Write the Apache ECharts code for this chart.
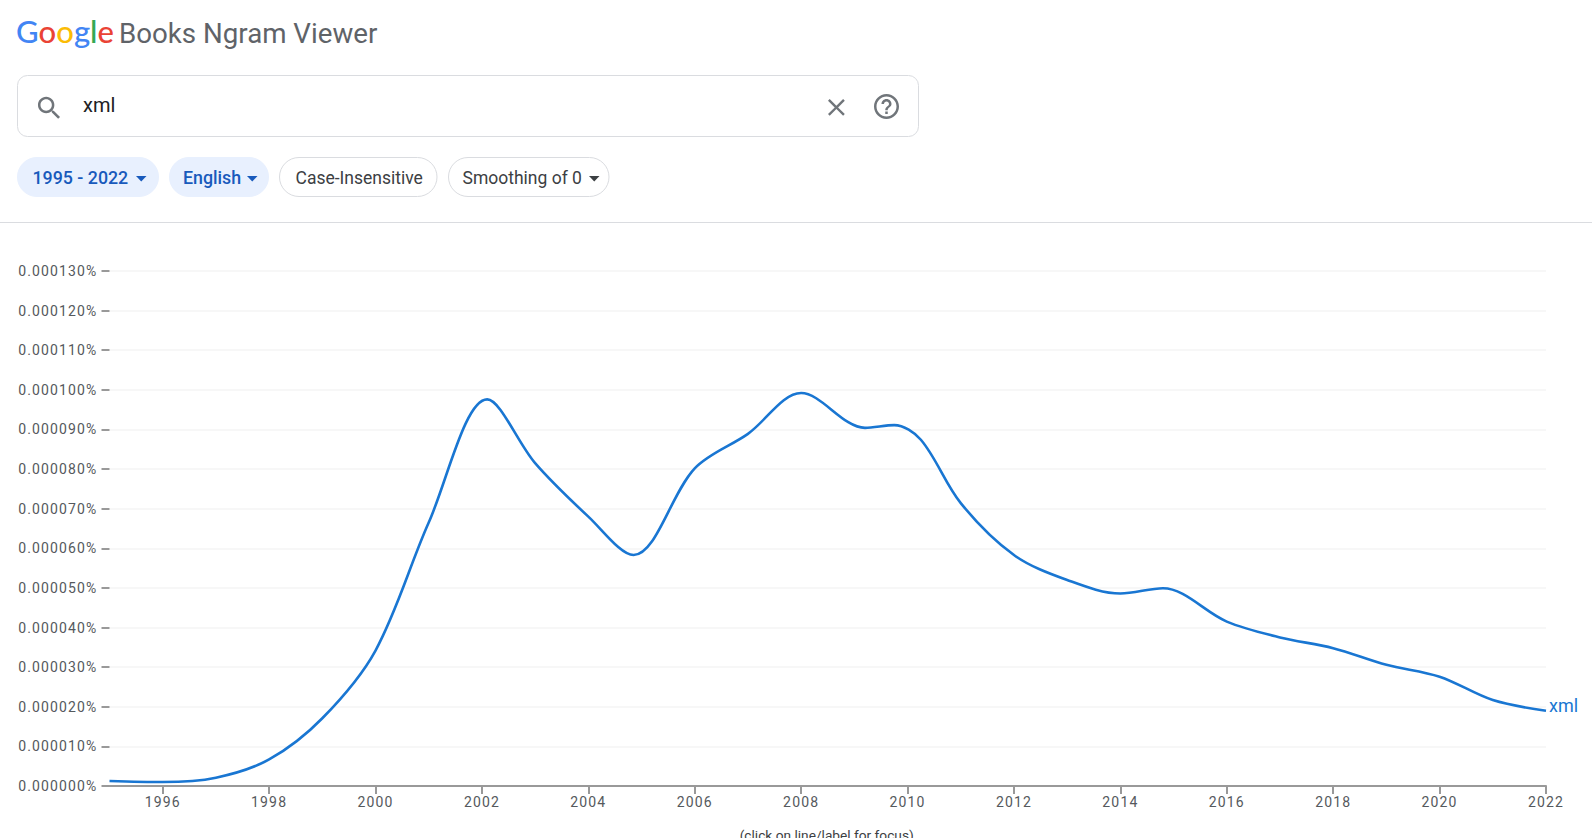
<!DOCTYPE html>
<html><head><meta charset="utf-8">
<style>
html,body{margin:0;padding:0;background:#fff;overflow:hidden}
#c{width:1592px;height:838px}
#c svg text[style*="14px"]{letter-spacing:1.15px}
</style>
<script src="https://cdn.jsdelivr.net/npm/echarts@6/dist/echarts.min.js"></script>
</head><body><div id="c"></div>
<script>
const query = 'xml';
const years = [1995,1996,1997,1998,1999,2000,2001,2002.1,2003,2004,2004.85,2006,2007,2008,2009.2,2009.75,2010.25,2011,2012,2013,2014,2014.8,2016,2017,2018,2019,2020,2021,2022];
const values = [1.26e-6,1.0e-6,2.1e-6,6.7e-6,17.1e-6,34.2e-6,66.5e-6,97.6e-6,81.5e-6,68.0e-6,58.3e-6,80.2e-6,88.9e-6,99.2e-6,90.4e-6,91.1e-6,87.4e-6,71.4e-6,58.3e-6,52.0e-6,48.6e-6,49.9e-6,41.5e-6,37.5e-6,34.8e-6,30.6e-6,27.6e-6,21.7e-6,19.0e-6];
const xTicks = [1996,1998,2000,2002,2004,2006,2008,2010,2012,2014,2016,2018,2020,2022];
const chips = [
  {text:'1995 - 2022',x:17,w:142,tx:32.5,active:true,caret:136},
  {text:'English',x:169,w:100,tx:183,active:true,caret:247},
  {text:'Case-Insensitive',x:279,w:158.5,tx:295.5,active:false},
  {text:'Smoothing of 0',x:448,w:161.5,tx:462.5,active:false,caret:589}
];
const ICON_SEARCH='M15.5 14h-.79l-.28-.27C15.41 12.59 16 11.11 16 9.5 16 5.91 13.09 3 9.5 3S3 5.91 3 9.5 5.91 16 9.5 16c1.61 0 3.09-.59 4.23-1.57l.27.28v.79l5 4.99L20.49 19l-4.99-5zm-6 0C7.01 14 5 11.99 5 9.5S7.01 5 9.5 5 14 7.01 14 9.5 11.99 14 9.5 14z';
const ICON_CLOSE='M19 6.41L17.59 5 12 10.59 6.41 5 5 6.41 10.59 12 5 17.59 6.41 19 12 13.41 17.59 19 19 17.59 13.41 12z';
const ICON_HELP='M11 18h2v-2h-2v2zm1-16C6.48 2 2 6.48 2 12s4.48 10 10 10 10-4.48 10-10S17.52 2 12 2zm0 18c-4.41 0-8-3.59-8-8s3.59-8 8-8 8 3.59 8 8-3.59 8-8 8zm0-14c-2.21 0-4 1.79-4 4h2c0-1.1.9-2 2-2s2 .9 2 2c0 2-3 1.75-3 5h2c0-2.25 3-2.5 3-5 0-2.21-1.79-4-4-4z';
echarts.graphic.registerShape('iconSearch',echarts.graphic.extendPath(ICON_SEARCH));
echarts.graphic.registerShape('iconClose',echarts.graphic.extendPath(ICON_CLOSE));
echarts.graphic.registerShape('iconHelp',echarts.graphic.extendPath(ICON_HELP));
const FONT='Roboto, sans-serif';
const icon=(t,x,y,s)=>({type:t,x:x,y:y,scaleX:s,scaleY:s,style:{fill:'#70757a'}});
const g=[];
g.push({type:'text',x:16,y:15,style:{text:'{b|G}{r|o}{y|o}{b|g}{g|l}{r|e}',font:'500 31px Lato',rich:{
 b:{fill:'#4285f4',font:'500 31px Lato'},r:{fill:'#ea4335',font:'500 31px Lato'},y:{fill:'#fbbc05',font:'500 31px Lato'},g:{fill:'#34a853',font:'500 31px Lato'}}}});
g.push({type:'text',x:119,y:19,style:{text:'Books Ngram Viewer',fill:'#5f6368',font:'27.7px '+FONT}});
g.push({type:'rect',shape:{x:17.5,y:75.5,width:901,height:61,r:10},style:{fill:'#fff',stroke:'#dadce0',lineWidth:1}});
g.push(icon('iconSearch',34.2,93,1.26));
g.push({type:'text',x:83,y:95,style:{text:query,fill:'#202124',font:'20px '+FONT}});
g.push(icon('iconClose',822,93,1.2));
g.push(icon('iconHelp',871.5,91.5,1.25));
chips.forEach(c=>{
  g.push({type:'rect',shape:{x:c.x+.5,y:157.5,width:c.w-1,height:39,r:19.5},style:{fill:c.active?'#e8f0fe':'#fff',stroke:c.active?'#e8f0fe':'#dadce0',lineWidth:1}});
  g.push({type:'text',x:c.tx,y:c.active?168:169,style:{text:c.text,fill:c.active?'#185abc':'#3c4043',font:c.active?'500 17.8px '+FONT:'17.5px '+FONT}});
  if(c.caret) g.push({type:'polygon',shape:{points:[[c.caret,176],[c.caret+10.5,176],[c.caret+5.25,181.5]]},style:{fill:c.active?'#185abc':'#3c4043'}});
});
g.push({type:'line',shape:{x1:0,y1:222.5,x2:1592,y2:222.5},style:{stroke:'#dadce0',lineWidth:1}});
g.push({type:'text',x:826.7,y:828,style:{text:'(click on line/label for focus)',fill:'#3c4043',font:'13.7px '+FONT,textAlign:'center'}});

const chart=echarts.init(document.getElementById('c'),null,{renderer:'svg'});
chart.setOption({
  animation:false,
  backgroundColor:'#fff',
  grid:{left:109.5,right:46,top:271,bottom:52},
  xAxis:{type:'value',min:1995,max:2022,
    axisLine:{lineStyle:{color:'#999',width:2}},
    axisTick:{length:8,customValues:xTicks,lineStyle:{color:'#999',width:2}},
    axisLabel:{customValues:xTicks,margin:9,color:'#55595d',fontFamily:'Roboto',fontSize:14,formatter:v=>String(v)},
    splitLine:{show:false}},
  yAxis:{type:'value',min:0,max:0.00013,interval:0.00001,
    axisLine:{show:false},
    axisTick:{show:true,length:8,lineStyle:{color:'#999',width:2}},
    axisLabel:{margin:12,color:'#55595d',fontFamily:'Roboto',fontSize:14,formatter:v=>v.toFixed(6)+'%'},
    splitLine:{lineStyle:{color:'#f5f5f5',width:1.5}}},
  series:[{type:'line',name:query,data:years.map((y,i)=>[y,values[i]]),smooth:0.33,showSymbol:false,
    lineStyle:{color:'#1976d2',width:2.6},
    endLabel:{show:true,formatter:query,color:'#1976d2',fontFamily:'Roboto',fontSize:18,distance:3,offset:[0,-5]}}],
  graphic:g
});
</script></body></html>
